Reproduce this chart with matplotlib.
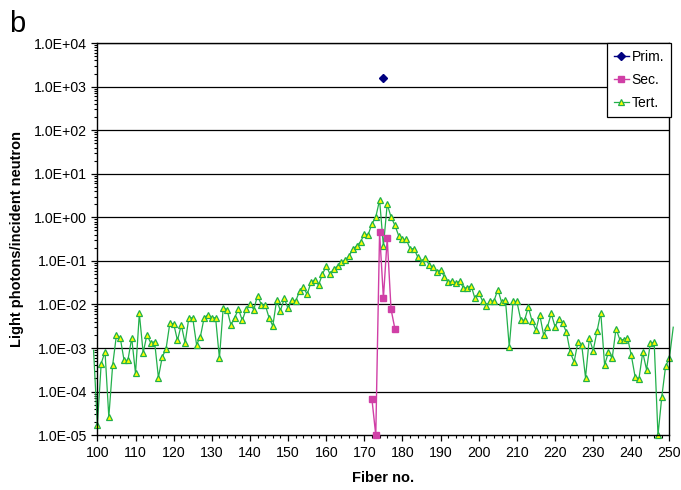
import numpy as np
import matplotlib
matplotlib.use("Agg")
import matplotlib.pyplot as plt
from matplotlib.ticker import LogLocator, MultipleLocator, FuncFormatter, NullFormatter

plt.rcParams['font.family'] = ['Liberation Sans', 'DejaVu Sans']

# tertiary light yield per fiber (99 and 251 run just past the axis edges)
tert_fiber = np.arange(99, 252)
tert_val = [
    8.9e-4, 1.7e-5, 4.4e-4, 8.3e-4, 2.6e-5, 4.0e-4, 2.0e-3, 1.7e-3, 5.2e-4, 5.2e-4,
    1.7e-3, 2.6e-4, 6.2e-3, 7.8e-4, 2.0e-3, 1.3e-3, 1.4e-3, 2.1e-4, 6.2e-4, 9.5e-4,
    3.7e-3, 3.6e-3, 1.5e-3, 3.4e-3, 1.3e-3, 5.0e-3, 4.9e-3, 1.2e-3, 1.8e-3, 5.0e-3,
    5.8e-3, 5.0e-3, 4.9e-3, 5.8e-4, 8.5e-3, 7.6e-3, 3.4e-3, 5.0e-3, 7.8e-3, 4.3e-3,
    7.8e-3, 1.05e-2, 7.6e-3, 1.6e-2, 9.8e-3, 9.8e-3, 5.0e-3, 3.2e-3, 1.26e-2, 7.2e-3,
    1.38e-2, 8.1e-3, 1.29e-2, 1.2e-2, 2.0e-2, 2.5e-2, 1.7e-2, 3.2e-2, 3.7e-2, 2.8e-2,
    4.9e-2, 7.6e-2, 5.0e-2, 6.6e-2, 7.6e-2, 9.3e-2, 0.107, 0.129, 0.19, 0.22,
    0.275, 0.41, 0.40, 0.71, 1.02, 2.5, 0.22, 2.0, 1.02, 0.66,
    0.38, 0.31, 0.31, 0.19, 0.19, 0.123, 9.3e-2, 0.115, 8.1e-2, 7.1e-2,
    5.6e-2, 6.2e-2, 4.3e-2, 3.2e-2, 3.5e-2, 3.1e-2, 3.4e-2, 2.4e-2, 2.4e-2, 2.7e-2,
    1.38e-2, 1.86e-2, 1.2e-2, 9.3e-3, 1.2e-2, 1.2e-2, 2.2e-2, 1.12e-2, 1.29e-2, 1.07e-3,
    1.17e-2, 1.17e-2, 4.5e-3, 4.3e-3, 8.7e-3, 4.1e-3, 2.6e-3, 5.8e-3, 2.0e-3, 3.0e-3,
    6.2e-3, 3.1e-3, 4.6e-3, 3.7e-3, 2.3e-3, 7.9e-4, 4.8e-4, 1.35e-3, 1.17e-3, 2.1e-4,
    1.66e-3, 8.7e-4, 2.4e-3, 6.5e-3, 4.1e-4, 7.9e-4, 5.9e-4, 2.8e-3, 1.55e-3, 1.55e-3,
    1.74e-3, 6.8e-4, 2.2e-4, 1.95e-4, 7.9e-4, 3.2e-4, 1.29e-3, 1.35e-3, 1.0e-5, 7.6e-5,
    3.8e-4, 5.9e-4, 3.0e-3,
]

sec_fiber = [172, 173, 174, 175, 176, 177, 178]
sec_val = [6.6e-5, 1.0e-5, 0.46, 0.014, 0.33, 7.8e-3, 2.8e-3]

prim_fiber = [175]
prim_val = [1.6e3]

fig = plt.figure(figsize=(6.81, 4.90), dpi=100)
ax = fig.add_axes([0.143, 0.112, 0.840, 0.800])

for d in range(-4, 5):
    ax.axhline(10.0 ** d, color='black', lw=0.9, zorder=0)

ax.plot(prim_fiber, prim_val, color='#000080', marker='D', markersize=4.5,
        lw=1, label='Prim.', zorder=4)
ax.plot(sec_fiber, sec_val, color='#D03FA6', marker='s', markersize=4.5,
        lw=1, label='Sec.', zorder=3, clip_on=False)
ax.plot(tert_fiber, tert_val, color='#22B04A', lw=0.9, marker='^',
        markersize=4.8, markerfacecolor='#FFFF00', markeredgecolor='#22B04A',
        markeredgewidth=0.9, markevery=slice(1, -1), label='Tert.',
        zorder=2, clip_on=False)

ax.set_yscale('log')
ax.set_ylim(1e-5, 1e4)
ax.set_xlim(100, 250)

ax.xaxis.set_major_locator(MultipleLocator(10))
ax.xaxis.set_minor_locator(MultipleLocator(2))
ax.yaxis.set_major_locator(LogLocator(base=10, numticks=20))
ax.yaxis.set_minor_locator(LogLocator(base=10, subs=np.arange(2, 10), numticks=20))
ax.yaxis.set_minor_formatter(NullFormatter())


def sci_label(v, pos):
    e = int(round(np.log10(v)))
    return '1.0E%s%02d' % ('+' if e >= 0 else '-', abs(e))


ax.yaxis.set_major_formatter(FuncFormatter(sci_label))
ax.tick_params(axis='both', which='major', direction='out', length=4,
               width=0.9, labelsize=10.2, colors='black')
ax.tick_params(axis='both', which='minor', direction='out', length=2.5, width=0.8)

for s in ax.spines.values():
    s.set_color('black')
    s.set_linewidth(1)

ax.set_xlabel('Fiber no.', fontsize=10.5, fontweight='bold', labelpad=8)
ax.set_ylabel('Light photons/incident neutron', fontsize=10.5,
              fontweight='bold', labelpad=7)

leg = ax.legend(loc='upper right', bbox_to_anchor=(1.003, 1.0), fancybox=False,
                edgecolor='black', framealpha=1, fontsize=10, borderaxespad=0,
                handlelength=1.1, handletextpad=0.2, labelspacing=0.65,
                borderpad=0.5)
leg.get_frame().set_linewidth(0.9)

fig.text(0.014, 0.935, 'b', fontsize=21)

fig.savefig('out.png', dpi=100)
